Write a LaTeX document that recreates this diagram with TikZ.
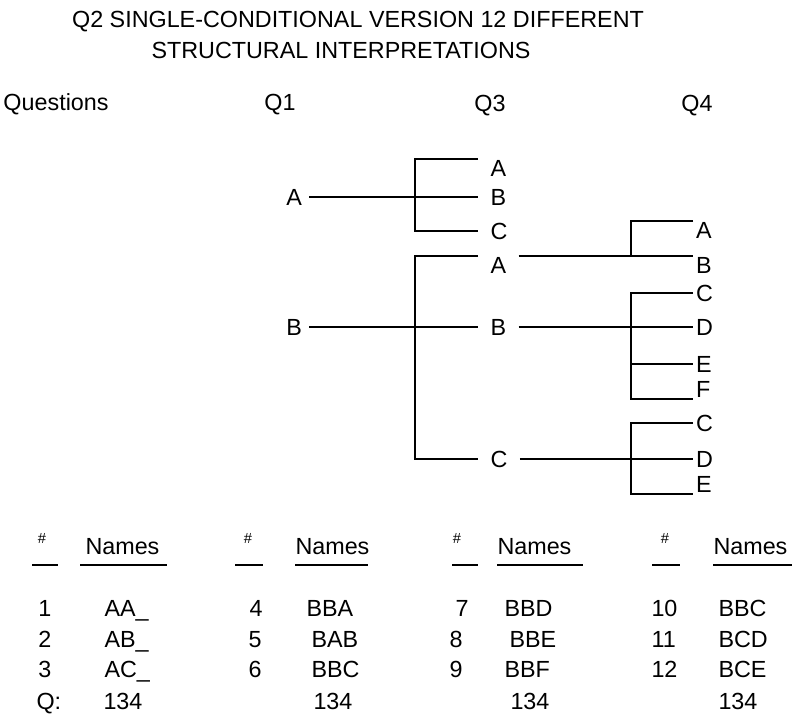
\documentclass[tikz,border=0pt]{standalone}
\usepackage{fontspec}
\setmainfont{Liberation Sans}

\tikzset{every picture/.style={line width=0.75pt}}
\tikzset{
  txt/.style={inner sep=0.75pt, font=\fontsize{17.5}{21}\selectfont},
  hashtxt/.style={inner sep=0.75pt, font=\fontsize{11}{13}\selectfont},
  cell/.style={txt, anchor=base west},
  onelbl/.style={txt, inner xsep=5pt, inner ysep=1pt},
  threelbl/.style={txt, inner xsep=9pt, inner ysep=1pt},
  fourlbl/.style={txt, inner xsep=2pt, inner ysep=1pt},
  branch/.style={line width=2pt},
  uline/.style={line width=1.9pt}
}

\begin{document}
\begin{tikzpicture}[x=0.75pt,y=0.75pt,yscale=-1,xscale=1]
\useasboundingbox (0,0) rectangle (792,715);

% Text Node
\node [txt] (titleone) at (358,22) {Q2 SINGLE-CONDITIONAL VERSION 12 DIFFERENT};
% Text Node
\node [txt] (titletwo) at (341,50) {STRUCTURAL INTERPRETATIONS};
% Text Node
\node [cell] (hquest) at (2,110) {Questions};
% Text Node
\node [txt, anchor=base] (hqone) at (280,110) {Q1};
% Text Node
\node [txt, anchor=base] (hqthree) at (490,111) {Q3};
% Text Node
\node [txt, anchor=base] (hqfour) at (697,111) {Q4};

% Q1 answers
\node [onelbl, anchor=east] (q1a) at (309,197) {A};
\node [onelbl, anchor=east] (q1b) at (309,327) {B};
% Q3 answers
\node [threelbl, anchor=north west] (q3aa) at (478,159) {A};
\node [threelbl, anchor=west] (q3ab) at (478,197) {B};
\node [threelbl, anchor=west] (q3ac) at (478,231) {C};
\node [threelbl, anchor=north west] (q3ba) at (478,256) {A};
\node [threelbl, anchor=west] (q3bb) at (478,327) {B};
\node [threelbl, anchor=west] (q3bc) at (478,459) {C};
% Q4 answers
\node [fourlbl, anchor=north west] (q4a) at (693,221) {A};
\node [fourlbl, anchor=north west] (q4b) at (693,256) {B};
\node [fourlbl, anchor=west] (q4c) at (693,293) {C};
\node [fourlbl, anchor=west] (q4d) at (693,327) {D};
\node [fourlbl, anchor=west] (q4e) at (693,364) {E};
\node [fourlbl, anchor=south west] (q4f) at (693,399) {F};
\node [fourlbl, anchor=west] (q4g) at (693,423) {C};
\node [fourlbl, anchor=west] (q4h) at (693,459) {D};
\node [fourlbl, anchor=south west] (q4i) at (693,494) {E};

% bracket joints
\coordinate (ja) at (415,197);
\coordinate (jb) at (415,327);
\coordinate (ka) at (631,256);
\coordinate (kb) at (631,327);
\coordinate (kc) at (631,459);

%Straight Lines
\draw [branch] (q1a.east) -- (q3ab.west);
\draw [branch] (q3aa.north west) -| (ja) |- (q3ac.west);
\draw [branch] (q1b.east) -- (q3bb.west);
\draw [branch] (q3ba.north west) -| (jb) |- (q3bc.west);
%Straight Lines
\draw [branch] (q3ba.north east) -- (q4b.north west);
\draw [branch] (q4a.north west) -| (ka);
\draw [branch] (q3bb.east) -- (q4d.west);
\draw [branch] (q4c.west) -| (kb) |- (q4f.south west);
\draw [branch] (kb |- q4e.west) -- (q4e.west);
\draw [branch] (q3bc.east) -- (q4h.west);
\draw [branch] (q4g.west) -| (kc) |- (q4i.south west);

% Table heads
\node [hashtxt] (hnumone) at (42,538) {\#};
\node [cell] (hnameone) at (84,554) {Names};
\node [hashtxt] (hnumtwo) at (248,538) {\#};
\node [cell] (hnametwo) at (294,554) {Names};
\node [hashtxt] (hnumthree) at (457,538) {\#};
\node [cell] (hnamethree) at (496,554) {Names};
\node [hashtxt] (hnumfour) at (665,538) {\#};
\node [cell] (hnamefour) at (712,554) {Names};
%Straight Lines
\draw [uline] (32,565) -- (58,565);
\draw [uline] (80,565) -- (167,565);
\draw [uline] (235,565) -- (263,565);
\draw [uline] (295,565) -- (368,565);
\draw [uline] (452,565) -- (478,565);
\draw [uline] (497,565) -- (583,565);
\draw [uline] (652,565) -- (680,565);
\draw [uline] (713,565) -- (792,565);

% first group
\node [cell] (rone) at (37,616) {1};
\node [cell] (rtwo) at (37,647) {2};
\node [cell] (rthree) at (37,677) {3};
\node [cell] (rq) at (35,709) {Q:};
\node [cell] (none) at (103,616) {AA\_};
\node [cell] (ntwo) at (103,647) {AB\_};
\node [cell] (nthree) at (103,677) {AC\_};
\node [cell] (qone) at (102,709) {134};
% second group
\node [cell] (rfour) at (248,616) {4};
\node [cell] (rfive) at (247,647) {5};
\node [cell] (rsix) at (247,677) {6};
\node [cell] (nfour) at (305,616) {BBA};
\node [cell] (nfive) at (310,647) {BAB};
\node [cell] (nsix) at (310,677) {BBC};
\node [cell] (qtwo) at (312,709) {134};
% third group
\node [cell] (rseven) at (454,616) {7};
\node [cell] (reight) at (448,647) {8};
\node [cell] (rnine) at (448,677) {9};
\node [cell] (nseven) at (503,616) {BBD};
\node [cell] (neight) at (508,647) {BBE};
\node [cell] (nnine) at (503,677) {BBF};
\node [cell] (qthree) at (509,709) {134};
% fourth group
\node [cell] (rten) at (650,616) {10};
\node [cell] (releven) at (650,647) {11};
\node [cell] (rtwelve) at (650,677) {12};
\node [cell] (nten) at (717,616) {BBC};
\node [cell] (neleven) at (717,647) {BCD};
\node [cell] (ntwelve) at (717,677) {BCE};
\node [cell] (qfour) at (717,709) {134};

\end{tikzpicture}
\end{document}
